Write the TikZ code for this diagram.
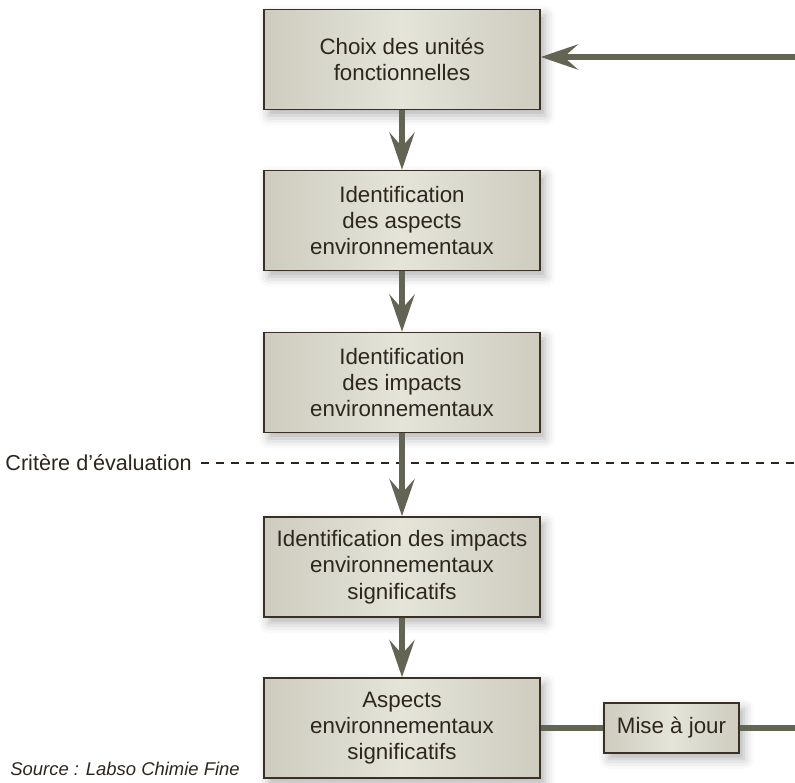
\documentclass[tikz,border=0pt]{standalone}
\usepackage{fontspec}
\setmainfont{Liberation Sans}
\usepackage{xcolor}
\usetikzlibrary{arrows.meta,positioning,shadows.blur}
\definecolor{boxedge}{RGB}{58,48,38}
\definecolor{boxside}{RGB}{206,204,191}
\definecolor{boxmid}{RGB}{228,228,217}
\definecolor{flow}{RGB}{100,100,84}
\definecolor{ink}{RGB}{45,38,30}

\tikzset{
  stage/.style={draw=boxedge, line width=0.9pt, left color=boxside, right color=boxside,
    middle color=boxmid, minimum width=5.52cm, minimum height=2cm, align=center,
    text=ink, blur shadow={shadow xshift=0.1cm, shadow yshift=-0.12cm, shadow opacity=30,
    shadow blur radius=0.2cm}},
  flowline/.style={draw=flow, line width=3.4pt},
  flowarrow/.style={flowline, -{Stealth[length=0.74cm, width=0.5cm, inset=0.28cm]}},
}

\begin{document}
\begin{tikzpicture}[font=\fontsize{12.7}{15}\selectfont]
  \useasboundingbox (0,0) rectangle (15.9,15.64);
  % main chain of boxes
  \node[stage] (choix) at (8.04,14.45) {Choix des unités\\fonctionnelles};
  \node[stage] (aspects) at (8.04,11.23) {Identification\\des aspects\\environnementaux};
  \node[stage] (impacts) at (8.04,7.99) {Identification\\des impacts\\environnementaux};
  \node[stage] (signif) at (8.04,4.30) {Identification des impacts\\environnementaux\\significatifs};
  \node[stage] (aspsig) at (8.04,1.08) {Aspects\\environnementaux\\significatifs};
  \node[stage, minimum width=2.7cm, minimum height=1cm] (maj) at (13.43,1.08) {Mise à jour};
  % evaluation threshold
  \node[text=ink, anchor=east, inner sep=0pt, font=\fontsize{12.3}{14}\selectfont]
    (critere) at (3.84,6.38) {Critère d’évaluation};
  \coordinate (seuil) at (15.9,6.38);
  \draw[ink, dash pattern=on 0.16cm off 0.14cm, line width=0.6pt]
    ([xshift=0.18cm]critere.east) -- (seuil);
  % loop back
  \coordinate (retour) at (15.9,14.5);
  \coordinate (sortie) at (15.9,1.08);
  \draw[flowarrow] (retour) -- (choix.east |- retour);
  \draw[flowarrow] (choix) -- (aspects);
  \draw[flowarrow] (aspects) -- (impacts);
  \draw[flowarrow] (impacts) -- (signif);
  \draw[flowarrow] (signif) -- (aspsig);
  \draw[flowline] (aspsig) -- (maj);
  \draw[flowline] (maj) -- (sortie);
  \node[text=ink, anchor=south west, inner sep=0pt, font=\fontsize{10.5}{12}\selectfont\itshape]
    (source) at (0.2,0.12) {Source : Labso Chimie Fine};
\end{tikzpicture}
\end{document}
